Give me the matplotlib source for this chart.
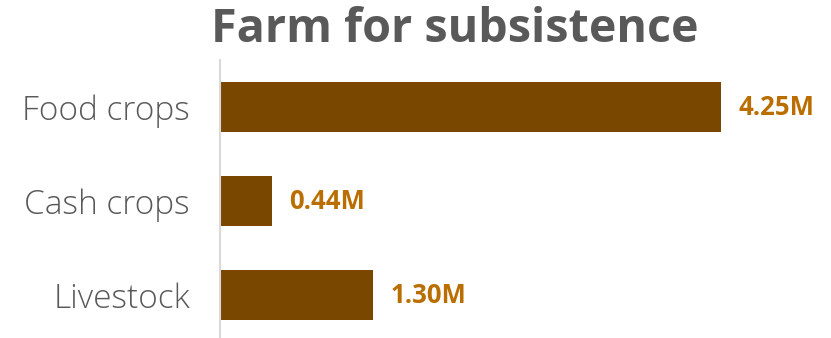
import matplotlib
matplotlib.use("Agg")
import matplotlib.pyplot as plt

categories = ["Food crops", "Cash crops", "Livestock"]
values = [4.25, 0.44, 1.30]
value_labels = ["4.25M", "0.44M", "1.30M"]

BAR_COLOR = "#7A4700"
LABEL_COLOR = "#BA6E00"
TEXT_COLOR = "#595959"

plt.rcParams["font.family"] = ["Open Sans", "DejaVu Sans"]

W, H = 831, 338
fig = plt.figure(figsize=(W / 100, H / 100), dpi=100)
ax = fig.add_axes([220 / W, 0, (W - 220) / W, (338 - 60) / H])

y = list(range(len(categories)))
ax.barh(y, values, height=0.53, color=BAR_COLOR)
ax.set_ylim(2.457, -0.5)
ax.set_xlim(0, (W - 220) / 117.9)

for yi, v, lab in zip(y, values, value_labels):
    ax.annotate(lab, (v, yi), xytext=(17, 0), textcoords="offset pixels",
                ha="left", va="center", fontsize=18.5, fontweight="bold",
                color=LABEL_COLOR)

ax.set_yticks(y)
ax.set_yticklabels(categories, fontsize=24, color=TEXT_COLOR, fontweight="light")
ax.tick_params(axis="y", length=0, pad=21.6)
ax.set_xticks([])
for side in ["top", "right", "bottom"]:
    ax.spines[side].set_visible(False)
ax.spines["left"].set_color("#D9D9D9")
ax.spines["left"].set_linewidth(1.5)

fig.text(455 / W, 1 - 29 / H, "Farm for subsistence", ha="center", va="center",
         fontsize=33.6, fontweight="bold", color=TEXT_COLOR)

fig.savefig("out.png", dpi=100)
